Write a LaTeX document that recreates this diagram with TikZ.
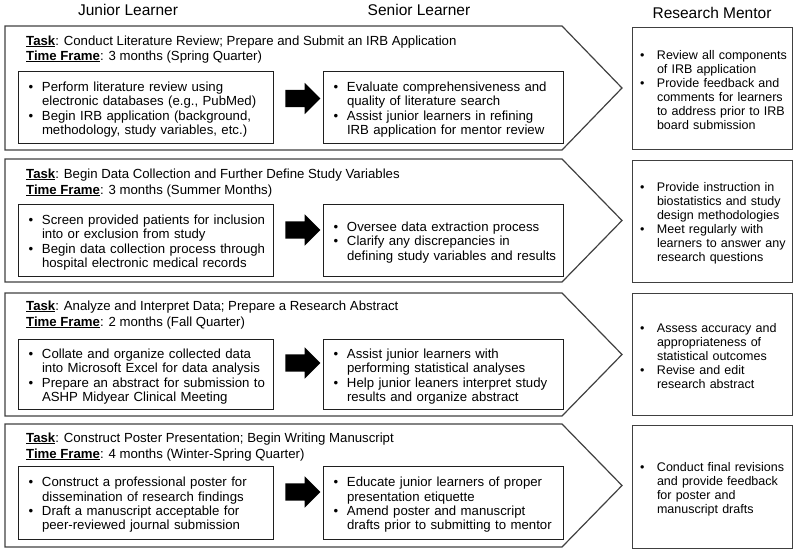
\documentclass[tikz,border=0pt]{standalone}
\usepackage{fontspec}
\setmainfont{Liberation Sans}
\usetikzlibrary{positioning, shapes.arrows}
\definecolor{myframe}{rgb}{0.25,0.25,0.25}
\definecolor{mybox}{rgb}{0.12,0.12,0.12}
\newcommand{\HeadFont}{\fontsize{15.5}{17}\selectfont}
\newcommand{\RowFont}{\fontsize{13.2}{14.4}\selectfont}
\newcommand{\MentorFont}{\fontsize{12.5}{14}\selectfont}
\newcommand{\Task}{\underline{\textbf{Task}}:}
\newcommand{\TimeFrame}{\underline{\textbf{Time Frame}}:}
\newlength{\BulPre}
\newlength{\BulHang}
\newcommand{\Bul}{\par\rightskip=-10pt plus 1fil\hyphenpenalty=10000
  \hangindent=\BulHang\hangafter=1\noindent\hbox to \BulHang{\hspace{\BulPre}\textbullet\hfil}}

\begin{document}
\begin{tikzpicture}[x=1pt, y=-1pt,
  rowframe/.style={draw=myframe, line width=1.2pt},
  header/.style={font=\HeadFont, anchor=base, inner sep=0pt},
  tasktext/.style={font=\RowFont, anchor=base west, inner sep=0pt},
  juniorbox/.style={draw=mybox, line width=1pt, font=\RowFont, align=left,
    inner xsep=8.5pt, inner ysep=0pt, text width=238pt,
    execute at begin node={\setlength{\BulPre}{2pt}\setlength{\BulHang}{15.5pt}}},
  seniorbox/.style={juniorbox, text width=223pt},
  mentorbox/.style={draw=myframe, line width=1pt, font=\MentorFont, align=left,
    inner xsep=6pt, inner ysep=0pt, text width=148pt,
    execute at begin node={\setlength{\BulPre}{2pt}\setlength{\BulHang}{19pt}}},
  blockarrow/.style={single arrow, fill=black, draw=none, inner xsep=0pt,
    inner ysep=8.5pt, minimum height=35pt, single arrow head extend=7pt}]
  \useasboundingbox (0,0) rectangle (794,555);

  % column headers
  \node[header] (HJ) at (128,15)   {Junior Learner};
  \node[header] (HS) at (419,15)   {Senior Learner};
  \node[header] (HM) at (712,18.5) {Research Mentor};

  % row 1
  \draw[rowframe] (5,26) -- (562,26) -- (622,88) -- (562,150) -- (5,150) -- cycle;
  \node[tasktext] (T1) at (26,45) {\Task{} Conduct Literature Review; Prepare and Submit an IRB Application};
  \node[tasktext] (F1) at (26,60) {\TimeFrame{} 3 months (Spring Quarter)};
  \node[juniorbox, minimum height=72pt] (J1) at (145.5,107)
    {\Bul Perform literature review using\newline electronic databases (e.g., PubMed)%
     \Bul Begin IRB application (background,\newline methodology, study variables, etc.)\par};
  \node[blockarrow] (A1) at (298.5,98.5) {};
  \node[seniorbox, minimum height=72pt] (S1) at (443,107)
    {\Bul Evaluate comprehensiveness and\newline quality of literature search%
     \Bul Assist junior learners in refining\newline IRB application for mentor review\par};
  \node[mentorbox, minimum height=122pt] (M1) at (712,88)
    {\Bul Review all components\newline of IRB application%
     \Bul Provide feedback and\newline comments for learners\newline to address prior to IRB\newline board submission\par};

  % row 2
  \draw[rowframe] (5,159) -- (562,159) -- (622,220.5) -- (562,282) -- (5,282) -- cycle;
  \node[tasktext] (T2) at (26,178) {\Task{} Begin Data Collection and Further Define Study Variables};
  \node[tasktext] (F2) at (26,194) {\TimeFrame{} 3 months (Summer Months)};
  \node[juniorbox, minimum height=72pt] (J2) at (145.5,240)
    {\Bul Screen provided patients for inclusion\newline into or exclusion from study%
     \Bul Begin data collection process through\newline hospital electronic medical records\par};
  \node[blockarrow] (A2) at (298.5,230) {};
  \node[seniorbox, minimum height=72pt] (S2) at (443,240)
    {\Bul Oversee data extraction process%
     \Bul Clarify any discrepancies in\newline defining study variables and results\par};
  \node[mentorbox, minimum height=122pt] (M2) at (712,221)
    {\Bul Provide instruction in\newline biostatistics and study\newline design methodologies%
     \Bul Meet regularly with\newline learners to answer any\newline research questions\par};

  % row 3
  \draw[rowframe] (5,293) -- (562,293) -- (622,354.5) -- (562,416) -- (5,416) -- cycle;
  \node[tasktext] (T3) at (26,310) {\Task{} Analyze and Interpret Data; Prepare a Research Abstract};
  \node[tasktext] (F3) at (26,326) {\TimeFrame{} 2 months (Fall Quarter)};
  \node[juniorbox, minimum height=70pt] (J3) at (145.5,374)
    {\Bul Collate and organize collected data\newline into Microsoft Excel for data analysis%
     \Bul Prepare an abstract for submission to\newline ASHP Midyear Clinical Meeting\par};
  \node[blockarrow] (A3) at (298.5,363) {};
  \node[seniorbox, minimum height=70pt] (S3) at (443,374)
    {\Bul Assist junior learners with\newline performing statistical analyses%
     \Bul Help junior leaners interpret study\newline results and organize abstract\par};
  \node[mentorbox, minimum height=122pt] (M3) at (712,354)
    {\Bul Assess accuracy and\newline appropriateness of\newline statistical outcomes%
     \Bul Revise and edit\newline research abstract\par};

  % row 4
  \draw[rowframe] (5,424) -- (562,424) -- (622,485.5) -- (562,547) -- (5,547) -- cycle;
  \node[tasktext] (T4) at (26,442) {\Task{} Construct Poster Presentation; Begin Writing Manuscript};
  \node[tasktext] (F4) at (26,458) {\TimeFrame{} 4 months (Winter-Spring Quarter)};
  \node[juniorbox, minimum height=73pt] (J4) at (145.5,502.5)
    {\Bul Construct a professional poster for\newline dissemination of research findings%
     \Bul Draft a manuscript acceptable for\newline peer-reviewed journal submission\par};
  \node[blockarrow] (A4) at (298.5,492) {};
  \node[seniorbox, minimum height=73pt] (S4) at (443,502.5)
    {\Bul Educate junior learners of proper\newline presentation etiquette%
     \Bul Amend poster and manuscript\newline drafts prior to submitting to mentor\par};
  \node[mentorbox, minimum height=123pt] (M4) at (712,486.5)
    {\Bul Conduct final revisions\newline and provide feedback\newline for poster and\newline manuscript drafts\par};
\end{tikzpicture}
\end{document}
